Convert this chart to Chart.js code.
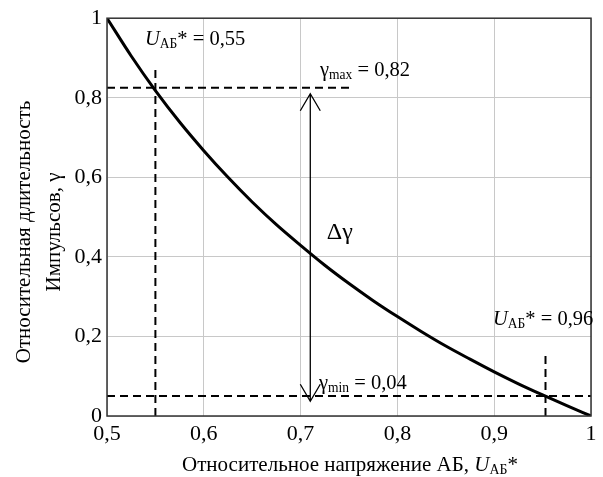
<!DOCTYPE html>
<html>
<head>
<meta charset="utf-8">
<script src="https://cdn.jsdelivr.net/npm/chart.js@4"></script>
<style>
  html, body { margin: 0; padding: 0; background: #fff; }
  #wrap { width: 603px; height: 477px; position: relative; }
</style>
</head>
<body>
<div id="wrap"><canvas id="myChart" width="603" height="477"></canvas></div>
<script>
// curve
const uValues = [0.5, 0.525, 0.55, 0.575, 0.6, 0.625, 0.65, 0.675, 0.7, 0.725, 0.75,
    0.775, 0.8, 0.825, 0.85, 0.875, 0.9, 0.925, 0.95, 0.975, 1];
const gammaValues = [1, 0.905, 0.818, 0.739, 0.667, 0.6, 0.538, 0.481, 0.429, 0.379, 0.333,
    0.29, 0.25, 0.212, 0.176, 0.143, 0.111, 0.081, 0.053, 0.026, 0];

// dashed guide lines
const uLowX = [0.55, 0.55];
const uLowY = [0, 0.87];
const gMaxX = [0.5, 0.75];
const gMaxY = [0.825, 0.825];
const uHighX = [0.953, 0.953];
const uHighY = [0, 0.157];
const gMinX = [0.5, 1];
const gMinY = [0.05, 0.05];

// double arrow (delta gamma)
const arrowX = 0.71;
const arrowY = [0.81, 0.037];

const xTicks = [0.5, 0.6, 0.7, 0.8, 0.9, 1];
const yTicks = [0, 0.2, 0.4, 0.6, 0.8, 1];

const serif = '"Liberation Serif", "Times New Roman", serif';
const ctx = document.getElementById('myChart').getContext('2d');

function pts(xs, ys) {
    return xs.map((x, i) => ({ x: x, y: ys[i] }));
}
function dashed(xs, ys) {
    return {
        data: pts(xs, ys),
        borderColor: '#000',
        borderWidth: 2,
        borderDash: [8, 5],
        pointRadius: 0,
        tension: 0
    };
}
function fmt(v) {
    return String(Math.round(v * 10) / 10).replace('.', ',');
}

// draws a run of text pieces: {t, it (italic), sub}
function drawRuns(c, x, y, runs, size) {
    let cx = x;
    runs.forEach((r) => {
        const s = r.sub ? size * 0.66 : size;
        c.font = (r.it ? 'italic ' : '') + s + 'px ' + serif;
        c.fillText(r.t, cx, y + (r.sub ? size * 0.16 : 0));
        cx += c.measureText(r.t).width;
    });
}

const extras = {
    id: 'extras',
    afterDatasetsDraw(chart) {
        const c = chart.ctx;
        const xs = chart.scales.x;
        const ys = chart.scales.y;
        const a = chart.chartArea;
        c.save();
        // frame
        c.strokeStyle = '#333';
        c.lineWidth = 1.5;
        c.strokeRect(a.left, a.top, a.right - a.left, a.bottom - a.top);

        // arrow
        const ax = xs.getPixelForValue(arrowX);
        const top = ys.getPixelForValue(arrowY[0]);
        const bot = ys.getPixelForValue(arrowY[1]);
        c.strokeStyle = '#000';
        c.lineWidth = 1.3;
        c.beginPath();
        c.moveTo(ax, top); c.lineTo(ax, bot);
        c.moveTo(ax - 10, top + 17); c.lineTo(ax, top); c.lineTo(ax + 10, top + 17);
        c.moveTo(ax - 10, bot - 17); c.lineTo(ax, bot); c.lineTo(ax + 10, bot - 17);
        c.stroke();

        // labels
        c.fillStyle = '#000';
        c.textBaseline = 'alphabetic';
        c.textAlign = 'left';
        const size = 20.5;
        drawRuns(c, 145, 45,
            [{ t: 'U', it: true }, { t: 'АБ', sub: true }, { t: '* = 0,55' }], size);
        drawRuns(c, 320, 76,
            [{ t: 'γ' }, { t: 'max', sub: true }, { t: ' = 0,82' }], size);
        drawRuns(c, xs.getPixelForValue(0.727), ys.getPixelForValue(0.445),
            [{ t: 'Δγ' }], 24);
        drawRuns(c, 319, 389,
            [{ t: 'γ' }, { t: 'min', sub: true }, { t: ' = 0,04' }], size);
        drawRuns(c, 493, 325,
            [{ t: 'U', it: true }, { t: 'АБ', sub: true }, { t: '* = 0,96' }], size);

        // x axis title
        drawRuns(c, 182, 471,
            [{ t: 'Относительное напряжение АБ, ' }, { t: 'U', it: true }, { t: 'АБ', sub: true }, { t: '*' }], 21);

        // y axis title
        c.save();
        c.translate(30, 232);
        c.rotate(-Math.PI / 2);
        c.textAlign = 'center';
        c.font = '21px ' + serif;
        c.fillText('Относительная длительность', 0, 0);
        c.fillText('Импульсов, γ', 0, 30);
        c.restore();
        c.restore();
    }
};

new Chart(ctx, {
    type: 'line',
    data: {
        datasets: [
            {
                data: pts(uValues, gammaValues),
                borderColor: '#000',
                borderWidth: 3,
                pointRadius: 0,
                cubicInterpolationMode: 'monotone'
            },
            dashed(uLowX, uLowY),
            dashed(gMaxX, gMaxY),
            dashed(uHighX, uHighY),
            dashed(gMinX, gMinY)
        ]
    },
    options: {
        responsive: false,
        animation: false,
        layout: { padding: { left: 0, top: 14, right: 12, bottom: 0 } },
        plugins: { legend: { display: false }, tooltip: { enabled: false } },
        scales: {
            x: {
                type: 'linear',
                min: 0.5,
                max: 1,
                afterBuildTicks: (s) => { s.ticks = xTicks.map((v) => ({ value: v })); },
                afterFit: (s) => { s.height = 61; },
                grid: { color: '#c8c8c8', drawTicks: false },
                border: { display: false },
                ticks: {
                    color: '#000',
                    padding: 5,
                    font: { family: serif, size: 22 },
                    callback: (v) => fmt(v)
                }
            },
            y: {
                min: 0,
                max: 1,
                afterBuildTicks: (s) => { s.ticks = yTicks.map((v) => ({ value: v })); },
                afterFit: (s) => { s.width = 107; },
                grid: { color: '#c8c8c8', drawTicks: false },
                border: { display: false },
                ticks: {
                    color: '#000',
                    padding: 5,
                    font: { family: serif, size: 22 },
                    callback: (v) => fmt(v)
                }
            }
        }
    },
    plugins: [extras]
});
</script>
</body>
</html>
